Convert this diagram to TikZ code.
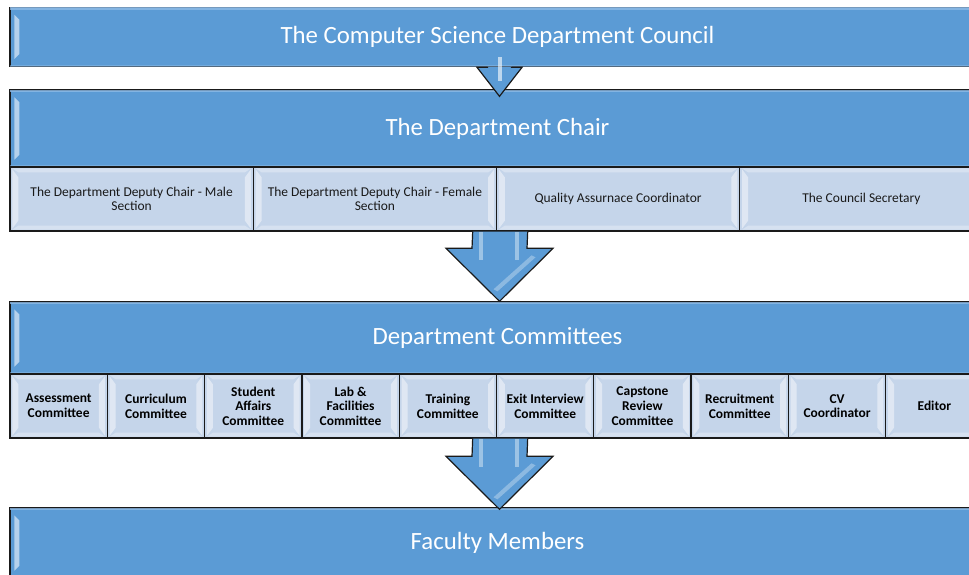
\documentclass[tikz,border=0pt]{standalone}
\usepackage{fontspec}
\setmainfont{Carlito}
\usetikzlibrary{calc}
\definecolor{hblue}{HTML}{5B9BD5}
\definecolor{hlight}{HTML}{8DBBE6}
\definecolor{sblue}{HTML}{C5D5EA}
\definecolor{ablue}{HTML}{5B9BD5}
\definecolor{edge}{HTML}{1A1A1A}
\newcommand\hdeco[1]{%
  \fill[hlight,opacity=0.8] ($(#1.north west)+(0.6,0.6)$) rectangle ($(#1.north east)+(-0.6,3)$);
  \fill[hlight,opacity=0.5] ($(#1.south west)+(0.6,-0.6)$) rectangle ($(#1.south east)+(-0.6,-2.5)$);
  \fill[white,opacity=0.55] ($(#1.north west)+(5,8)$) -- ($(#1.north west)+(10,13)$) -- ($(#1.south west)+(10,-13)$) -- ($(#1.south west)+(5,-8)$) -- cycle;}
\newcommand\sdeco[1]{%
  \fill[white,opacity=0.45] ($(#1.north west)+(3,3)$) -- ($(#1.north west)+(9,11)$) -- ($(#1.south west)+(9,-11)$) -- ($(#1.south west)+(3,-3)$) -- cycle;
  \fill[white,opacity=0.45] ($(#1.north east)+(-3,3)$) -- ($(#1.north east)+(-9,11)$) -- ($(#1.south east)+(-9,-11)$) -- ($(#1.south east)+(-3,-3)$) -- cycle;
  \fill[white,opacity=0.3] ($(#1.north west)+(3,2)$) -- ($(#1.north east)+(-3,2)$) -- ($(#1.north east)+(-9,6)$) -- ($(#1.north west)+(9,6)$) -- cycle;
  \fill[white,opacity=0.3] ($(#1.south west)+(3,-2)$) -- ($(#1.south east)+(-3,-2)$) -- ($(#1.south east)+(-9,-6)$) -- ($(#1.south west)+(9,-6)$) -- cycle;}
% #1 start (box bottom), #2 tip, #3 shaft half width, #4 head half width, #5 head length
\newcommand\barrow[5]{%
  \fill[ablue] (#1) ++(-#3,0) -- ($(#2)+(-#3,-#5)$) -- ($(#2)+(-#4,-#5)$) -- (#2) -- ($(#2)+(#4,-#5)$) -- ($(#2)+(#3,-#5)$) -- ($(#1)+(#3,0)$) -- cycle;
  \draw[edge,line width=0.9pt,line join=miter] ($(#1)+(-#3,0)$) -- ($(#2)+(-#3,-#5)$) -- ($(#2)+(-#4,-#5)$) -- (#2) -- ($(#2)+(#4,-#5)$) -- ($(#2)+(#3,-#5)$) -- ($(#1)+(#3,0)$);}
\begin{document}
\begin{tikzpicture}[x=0.75pt,y=-0.75pt,
  sz/.style 2 args={minimum width=#1*0.75pt, minimum height=#2*0.75pt},
  hdr/.style={draw=edge, line width=1pt, fill=hblue, text=white, inner sep=0pt,
    font=\fontsize{18.6}{22}\selectfont},
  sub/.style={draw=edge, line width=1pt, fill=sblue, text=black!90, inner sep=0pt, align=center,
    font=\fontsize{10.1}{11}\selectfont},
  com/.style={draw=edge, line width=1pt, fill=sblue, text=black, inner sep=0pt, align=center,
    font=\bfseries\fontsize{10.1}{11}\selectfont, sz={97.3}{64}}]
\clip (0,0) rectangle (969,574);
\useasboundingbox (0,0) rectangle (969,574);
\fill[white] (0,0) rectangle (969,574);

% council
\node[hdr, sz={975}{59}] (council) at (497.5,37) {The Computer Science Department Council};
\hdeco{council}

% chair
\node[hdr, sz={975}{77}] (chair) at (497.5,128.5) {The Department Chair};
\hdeco{chair}
\node[sub, sz={243.25}{64}] (s1) at (131.6,199) {The Department Deputy Chair - Male\\Section};
\node[sub, sz={243.25}{64}] (s2) at (374.9,199) {The Department Deputy Chair - Female\\Section};
\node[sub, sz={243.25}{64}] (s3) at (618.1,199) {Quality Assurnace Coordinator};
\node[sub, sz={243.25}{64}] (s4) at (861.4,199) {The Council Secretary};
\foreach \i in {1,...,4} {\sdeco{s\i}}

% committees
\node[hdr, sz={975}{72}] (comm) at (497.5,338) {Department Committees};
\hdeco{comm}
\foreach \t [count=\i] in {{Assessment\\Committee},{Curriculum\\Committee},{Student\\Affairs\\Committee},{Lab \&\\Facilities\\Committee},{Training\\Committee},{Exit Interview\\Committee},{Capstone\\Review\\Committee},{Recruitment\\Committee},{CV\\Coordinator},{Editor}} {
  \node[com] (c\i) at ({10+97.3*(\i-0.5)},406) {\t};
  \sdeco{c\i}
}

% faculty
\node[hdr, sz={975}{70}] (fac) at (497.5,543) {Faculty Members};
\hdeco{fac}

% arrows
\coordinate (a1s) at ($(council.south)+(2,0)$);
\coordinate (a1t) at ($(chair.north)+(2,7)$);
\barrow{a1s}{a1t}{12}{22.5}{29}
\fill[white,opacity=0.6] ($(a1s)+(-2,-10)$) rectangle ($(a1s)+(2,14)$);

\coordinate (a2s) at ($(s2.south east)+(3,0)$);
\coordinate (a2t) at ($(comm.north)+(2,0)$);
\barrow{a2s}{a2t}{27.5}{53.5}{53}
\fill[white,opacity=0.4] ($(a2s)+(-21,0)$) rectangle ($(a2s)+(-17,28)$);
\fill[white,opacity=0.4] ($(a2s)+(15,0)$) rectangle ($(a2s)+(19,28)$);
\fill[white,opacity=0.3] ($(a2t)+(-6,-12)$) -- ($(a2t)+(32,-46)$) -- ($(a2t)+(36,-44)$) -- ($(a2t)+(-2,-10)$) -- cycle;

\coordinate (a3s) at ($(c5.south east)+(3,0)$);
\coordinate (a3t) at ($(fac.north)+(2,2)$);
\barrow{a3s}{a3t}{27.5}{53.5}{53}
\fill[white,opacity=0.4] ($(a3s)+(-21,0)$) rectangle ($(a3s)+(-17,28)$);
\fill[white,opacity=0.4] ($(a3s)+(15,0)$) rectangle ($(a3s)+(19,28)$);
\fill[white,opacity=0.3] ($(a3t)+(-6,-12)$) -- ($(a3t)+(32,-46)$) -- ($(a3t)+(36,-44)$) -- ($(a3t)+(-2,-10)$) -- cycle;
\end{tikzpicture}
\end{document}
